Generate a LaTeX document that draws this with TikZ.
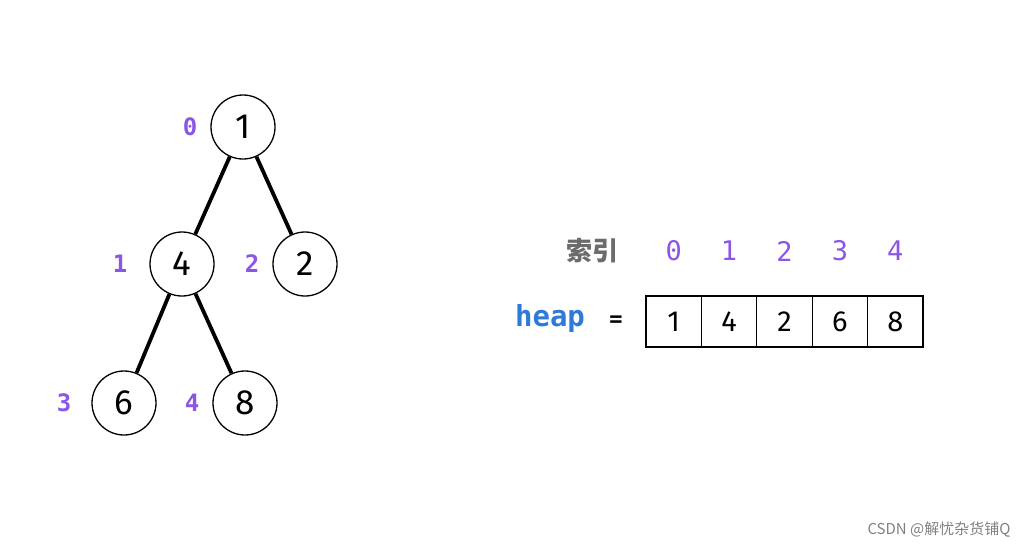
\documentclass[tikz,border=0pt]{standalone}
\usepackage{fontspec}
\setmainfont{Fira Sans}
\newfontfamily\monob{DejaVu Sans Mono}
\newfontfamily\cjk{Noto Sans CJK SC}
\begin{document}
\begin{tikzpicture}[x=1pt,y=-1pt,
  hnode/.style={circle,draw,line width=1.3pt,minimum size=64pt,inner sep=0pt,font=\fontsize{35}{35}\selectfont},
  idx/.style={text=idxc,font=\monob\bfseries\fontsize{24}{24}\selectfont},
  cell/.style={draw,line width=1.3pt,minimum width=55.4pt,minimum height=51pt,inner sep=0pt,font=\fontsize{29}{29}\selectfont},
  edge/.style={line width=3.8pt}]
\definecolor{idxc}{HTML}{8B55E6}
\definecolor{heapc}{HTML}{2F7AD8}
\path[use as bounding box] (0,0) rectangle (1026,552);
\node[hnode] (n0) at (243,127) {1};
\node[hnode] (n1) at (182,264) {4};
\node[hnode] (n2) at (305,264) {2};
\node[hnode] (n3) at (124,403) {6};
\node[hnode] (n4) at (245,403) {8};
\draw[edge] (n0) -- (n1); \draw[edge] (n0) -- (n2);
\draw[edge] (n1) -- (n3); \draw[edge] (n1) -- (n4);
\node[idx] (i0) at (190,127) {0};
\node[idx] (i1) at (120,264) {1};
\node[idx] (i2) at (252,264) {2};
\node[idx] (i3) at (64,403) {3};
\node[idx] (i4) at (192,403) {4};
\foreach \v/\k in {1/0,4/1,2/2,6/3,8/4}{
  \node[cell] (c\k) at ({673.7+55.4*\k},321.5) {\v};
  \node[idx,font=\monob\fontsize{27}{27}\selectfont] (t\k) at ({673.7+55.4*\k},251) {\k};
}
\node[text=gray!85!black,font=\cjk\bfseries\fontsize{26}{26}\selectfont] (sy) at (592,251) {索引};
\node[text=heapc,font=\monob\bfseries\fontsize{29}{29}\selectfont] (hp) at (550,318) {heap};
\node[font=\monob\bfseries\fontsize{22}{22}\selectfont] (eq) at (616,321) {=};
\node[text=gray,font=\cjk\fontsize{15}{15}\selectfont,anchor=east] (wm) at (1014,530) {CSDN @解忧杂货铺Q};
\end{tikzpicture}
\end{document}
